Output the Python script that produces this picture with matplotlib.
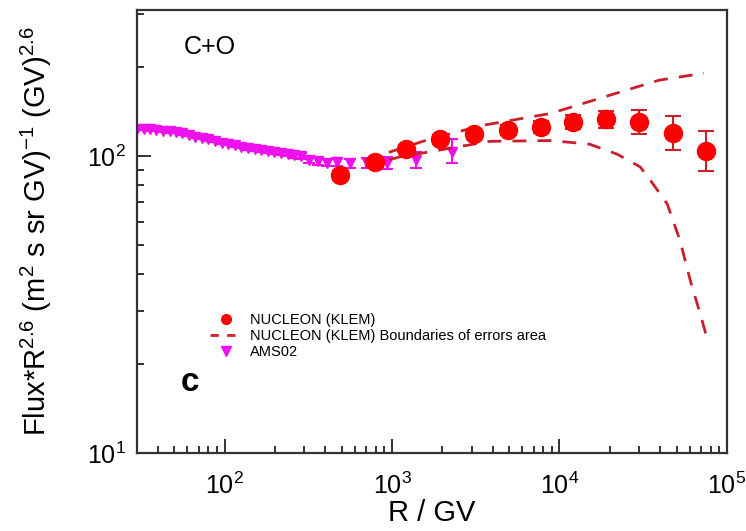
import matplotlib
matplotlib.use("Agg")
import matplotlib.pyplot as plt
from matplotlib.ticker import LogLocator, NullFormatter
from matplotlib.lines import Line2D
import numpy as np

plt.rcParams['font.family'] = ['Liberation Sans', 'DejaVu Sans']
plt.rcParams['mathtext.fontset'] = 'custom'
plt.rcParams['mathtext.rm'] = 'Liberation Sans'
plt.rcParams['mathtext.it'] = 'Liberation Sans:italic'
plt.rcParams['mathtext.bf'] = 'Liberation Sans:bold'

# ---- data ----
nucleon_R = [492, 794, 1210, 1930, 3080, 4900, 7710, 12100, 19000, 29900, 47800, 75000]
nucleon_F = [86.3, 95.5, 105.7, 114, 118.5, 122.4, 125.3, 130, 133, 130.5, 119.6, 104.1]
nucleon_err_lo = [3, 3, 3.5, 4, 4.5, 5, 6, 7, 8.5, 11.5, 14.5, 15]
nucleon_err_hi = [3, 3, 3.5, 4, 4.5, 5, 6, 7, 9, 12.5, 16.5, 17.5]

upper_R = [690, 933, 1683, 3530, 8830, 22100, 39400, 72900]
upper_F = [97, 102.4, 114, 127, 139, 163, 180, 190]

lower_R = [690, 1117, 3830, 8830, 15100, 22100, 30300, 34800, 44000, 52500, 60700, 69700, 77000]
lower_F = [92.4, 99.3, 112, 112.7, 109.6, 101.4, 91.9, 83, 68.9, 51.8, 37.7, 29, 23.7]

ams_R = [30, 33, 36, 39, 43, 47, 51, 56, 61, 67, 73, 80, 88, 96, 105, 115, 126, 138,
         151, 165, 181, 198, 217, 238, 260, 285, 320, 360, 410, 470, 560, 710, 930, 1390, 2280]
ams_F = [123.3, 123.3, 122.8, 122.3, 121.4, 120.9, 120.4, 119.1, 117.7, 116.3, 115.0, 113.7,
         112.3, 111.0, 109.8, 108.9, 107.6, 106.4, 105.6, 104.8, 104.0, 103.2, 102.4, 101.6,
         100.8, 100.0, 97.0, 96.0, 95.0, 95.5, 94.7, 94.7, 95.0, 97.0, 103.0]
ams_err_lo = [1.2, 1.2, 1.2, 1.2, 1.2, 1.2, 1.2, 1.2, 1.2, 1.2, 1.2, 1.2, 1.2, 1.3, 1.3, 1.3,
              1.4, 1.4, 1.5, 1.5, 1.6, 1.7, 1.8, 1.9, 2.0, 2.1, 2.3, 2.5, 2.7, 3.0, 3.3, 3.8, 4.5, 6.0, 8.0]
ams_err_hi = [1.2, 1.2, 1.2, 1.2, 1.2, 1.2, 1.2, 1.2, 1.2, 1.2, 1.2, 1.2, 1.2, 1.3, 1.3, 1.3,
              1.4, 1.4, 1.5, 1.5, 1.6, 1.7, 1.8, 1.9, 2.0, 2.1, 2.3, 2.5, 2.7, 3.0, 3.3, 3.8, 4.5, 6.5, 11.0]

legend_labels = ['NUCLEON (KLEM)', 'NUCLEON (KLEM) Boundaries of errors area', 'AMS02']

# ---- figure ----
fig = plt.figure(figsize=(7.46, 5.31), dpi=100)
ax = fig.add_axes([0.1836, 0.1469, 0.7909, 0.8342])

red = '#ff0000'
dred = '#c8202a'
mag = '#ee11ee'

ax.errorbar(ams_R, ams_F, yerr=[ams_err_lo, ams_err_hi], fmt='v', color=mag, ms=7,
            elinewidth=1.5, capsize=4, capthick=1.5, zorder=2)
ax.plot(upper_R, upper_F, color=dred, lw=2, dashes=(5, 4), zorder=3)
ax.plot(lower_R, lower_F, color=dred, lw=2, dashes=(5, 4), zorder=3)
ax.errorbar(nucleon_R, nucleon_F, yerr=[nucleon_err_lo, nucleon_err_hi], fmt='o', color=red,
            ms=13, elinewidth=1.5, ecolor=dred, capsize=6, capthick=1.5, zorder=4)

ax.set_xscale('log')
ax.set_yscale('log')
ax.set_xlim(30, 1e5)
ax.set_ylim(10, 310)

ax.xaxis.set_major_locator(LogLocator(base=10, numticks=10))
ax.xaxis.set_minor_locator(LogLocator(base=10, subs=np.arange(2, 10), numticks=10))
ax.yaxis.set_major_locator(LogLocator(base=10, numticks=10))
ax.yaxis.set_minor_locator(LogLocator(base=10, subs=np.arange(2, 10), numticks=10))
ax.xaxis.set_minor_formatter(NullFormatter())
ax.yaxis.set_minor_formatter(NullFormatter())

ax.tick_params(which='both', direction='in', top=False, right=False, labelsize=18,
               color='#222222', width=1.3)
ax.tick_params(which='major', length=10)
ax.tick_params(which='minor', length=5)
ax.tick_params(axis='x', which='major', pad=14)
ax.tick_params(axis='y', which='major', pad=8)
for s in ax.spines.values():
    s.set_linewidth(1.6)
    s.set_color('#333333')

ax.set_xlabel('R / GV', fontsize=21)
ax.xaxis.set_label_coords(0.5, -0.103)
ax.set_ylabel(r'Flux*R$^{2.6}$ (m$^2$ s sr GV)$^{-1}$ (GV)$^{2.6}$', fontsize=21)
ax.yaxis.set_label_coords(-0.14, 0.5)

ax.text(0.08, 0.90, 'C+O', transform=ax.transAxes, fontsize=18)
ax.text(0.075, 0.14, 'c', transform=ax.transAxes, fontsize=24, fontweight='bold')

h_n = Line2D([], [], marker='o', color=red, ls='none', ms=7)
h_b = Line2D([], [], color=dred, lw=2, dashes=(3, 3))
h_a = Line2D([], [], marker='v', color=mag, ls='none', ms=7)
ax.legend([h_n, h_b, h_a], legend_labels,
          loc='upper left', bbox_to_anchor=(0.112, 0.333), frameon=False, fontsize=10.5,
          handlelength=2.2, handletextpad=0.5, labelspacing=0.15, borderpad=0)

fig.savefig('out.png', dpi=100)
